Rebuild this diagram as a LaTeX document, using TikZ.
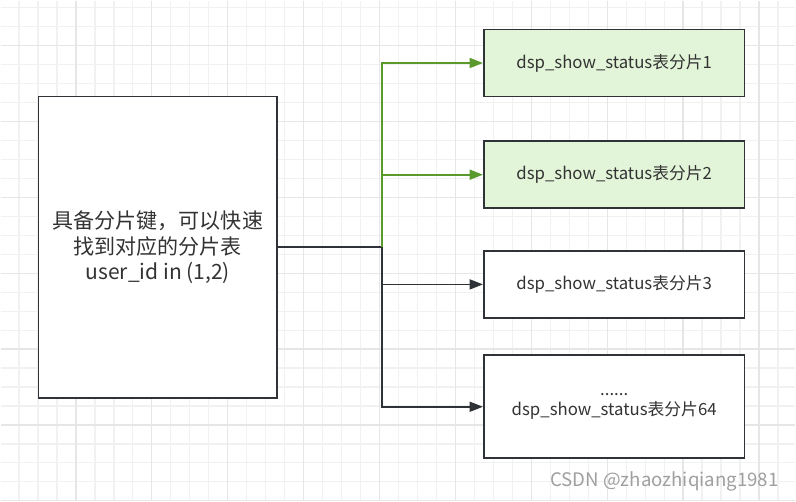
\documentclass[tikz,border=0pt]{standalone}
\usepackage{fontspec}
\setmainfont{Noto Sans CJK SC}
\usetikzlibrary{arrows.meta,positioning}
\definecolor{ShardGreen}{HTML}{E3F5D9}
\definecolor{ShardGreenDark}{HTML}{5A9A2C}
\definecolor{ShardLine}{HTML}{2F3338}
\definecolor{ShardText}{HTML}{333333}
\definecolor{GridMinor}{HTML}{F1F1F1}
\definecolor{GridMajor}{HTML}{E6E6E6}

\begin{document}
\begin{tikzpicture}[
    x=0.75pt, y=-0.75pt,
    every node/.style={
      draw=ShardLine,
      line width=1.4pt,
      align=center,
      inner sep=0pt,
      text=ShardText
    },
    shard/.style={
      minimum width=195.75pt,
      minimum height=50.25pt,
      font=\fontsize{12.6}{15}\selectfont
    },
    link/.style={line width=1.3pt,-{Triangle[length=10pt,width=7.5pt]}}
  ]
    % background grid
    \fill[white] (0,0) rectangle (796,501);
    \foreach \gx in {18.5,37.5,...,796}
      \draw[GridMinor,line width=0.9pt] (\gx,0) -- (\gx,501);
    \foreach \gy in {7,26,...,501}
      \draw[GridMinor,line width=0.9pt] (0,\gy) -- (796,\gy);
    \foreach \gx in {75.5,151.5,...,796}
      \draw[GridMajor,line width=0.9pt] (\gx,0) -- (\gx,501);
    \foreach \gy in {45,121,...,501}
      \draw[GridMajor,line width=0.9pt] (0,\gy) -- (796,\gy);

    \node[fill=white,minimum width=179.25pt,minimum height=226.5pt,
      font=\fontsize{15.8}{19.5}\selectfont] (keybox) at (157.5,247)
      {具备分片键，可以快速\\找到对应的分片表\\user\_id in (1,2)};
    \node[shard,fill=ShardGreen] (s1) at (614.5,62.5)
      {dsp\_show\_status表分片1};
    \node[shard,fill=ShardGreen,below=32.25pt of s1] (s2)
      {dsp\_show\_status表分片2};
    \node[shard,fill=white,below=30.75pt of s2] (s3)
      {dsp\_show\_status表分片3};
    \node[shard,fill=white,minimum height=77.25pt,below=26.75pt of s3] (s4)
      {......\\dsp\_show\_status表分片64};
    \node[draw=none,text=gray!75,font=\fontsize{14}{16}\selectfont,
      anchor=base east] (mark) at (780,487) {CSDN @zhaozhiqiang1981};

    \coordinate (split) at ([xshift=78pt]keybox.east);
    \draw[ShardLine,line width=1.3pt] (keybox.east) -- (split);
    \draw[ShardGreenDark,link] (split) |- (s1.west);
    \draw[ShardGreenDark,link] (split) |- (s2.west);
    \draw[ShardLine,link] (split) |- (s3.west);
    \draw[ShardLine,link] (split) |- (s4.west);
  \end{tikzpicture}
\end{document}
